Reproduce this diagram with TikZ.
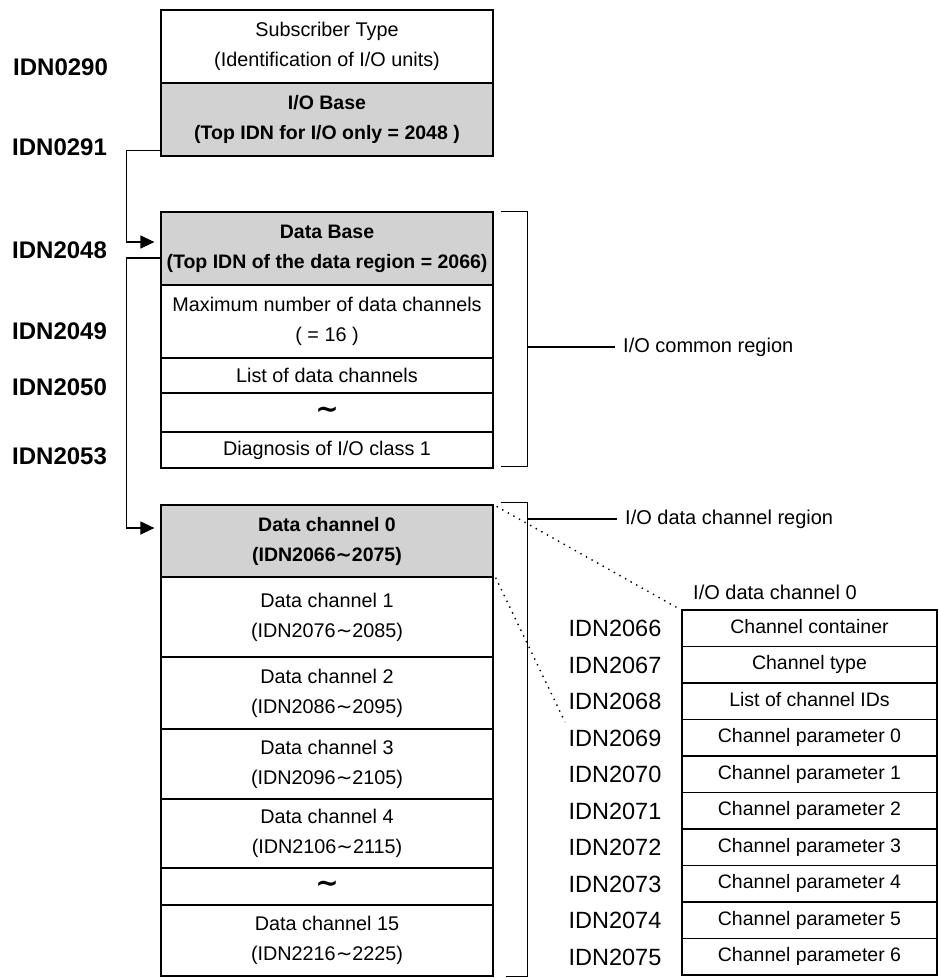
\documentclass[tikz,border=0pt]{standalone}
\usepackage{fontspec}
\setmainfont{Liberation Sans}
\newfontfamily\symf{DejaVu Sans}
\usetikzlibrary{arrows.meta}
\definecolor{boxgray}{RGB}{210,210,210}
\newcommand\wt{{\symf\char"223C}}
\newcommand\bigwt{{\symf\bfseries\fontsize{28}{28}\selectfont\char"223C}}
\begin{document}
\begin{tikzpicture}[x=1pt,y=-1pt,
 cell/.style={draw, line width=1.2pt, minimum width=332pt, inner sep=0pt, align=center, font=\fontsize{19.8}{30}\selectfont},
 shaded/.style={cell, fill=boxgray, font=\fontsize{19.5}{30}\selectfont\bfseries},
 tcell/.style={draw, line width=1.2pt, minimum width=255pt, minimum height=36.5pt, inner sep=0pt, text height=14pt, text depth=4pt, font=\fontsize{19.5}{24}\selectfont},
 lidn/.style={anchor=west, font=\fontsize{24}{24}\selectfont\bfseries, inner sep=0pt},
 ridn/.style={font=\fontsize{23.5}{23.5}\selectfont, inner sep=0pt},
 reg/.style={anchor=west, font=\fontsize{20}{20}\selectfont, inner sep=0pt},
 bline/.style={line width=1.2pt},
 link/.style={line width=1.2pt, -{Triangle[length=14pt,width=13pt]}},
 dots/.style={line width=1.4pt, dash pattern=on 1.4pt off 5pt}
]
\useasboundingbox (0,0) rectangle (939,978);

% main column
\node[cell, minimum height=73pt] (st) at (327,46.5) {Subscriber Type\\(Identification of I/O units)};
\node[shaded, minimum height=73pt] (iob) at (327,119.5) {I/O Base\\(Top IDN for I/O only = 2048 )};
\node[shaded, minimum height=73pt] (db) at (327,248.5) {Data Base\\(Top IDN of the data region = 2066)};
\node[cell, minimum height=73pt] (maxn) at (327,321.5) {Maximum number of data channels\\( = 16 )};
\node[cell, minimum height=35pt] (lst) at (327,375.5) {List of data channels};
\node[cell, minimum height=39pt] (tla) at (327,412.5) {\bigwt};
\node[cell, minimum height=36pt] (diag) at (327,450) {Diagnosis of I/O class 1};

\node[shaded, minimum height=72pt] (dc0) at (327,541) {Data channel 0\\(IDN2066\wt2075)};
\node[cell, minimum height=80pt] (dc1) at (327,617) {Data channel 1\\(IDN2076\wt2085)};
\node[cell, minimum height=72pt] (dc2) at (327,693) {Data channel 2\\(IDN2086\wt2095)};
\node[cell, minimum height=70pt] (dc3) at (327,764) {Data channel 3\\(IDN2096\wt2105)};
\node[cell, minimum height=69pt] (dc4) at (327,833.5) {Data channel 4\\(IDN2106\wt2115)};
\node[cell, minimum height=37pt] (tlb) at (327,886.5) {\bigwt};
\node[cell, minimum height=71pt] (dc15) at (327,940.5) {Data channel 15\\(IDN2216\wt2225)};

% left labels
\node[lidn] (i0290) at (13,67) {IDN0290};
\node[lidn] (i0291) at (12,147) {IDN0291};
\node[lidn] (i2048) at (12,250) {IDN2048};
\node[lidn] (i2049) at (12,331) {IDN2049};
\node[lidn] (i2050) at (12,387.5) {IDN2050};
\node[lidn] (i2053) at (12,456) {IDN2053};

% arrows
\draw[link] ([yshift=6pt]iob.south west) -- ++(-34,0) |- ([xshift=-6pt,yshift=6.5pt]db.west);
\draw[link] ([yshift=-9.5pt]db.west) -- ++(-34,0) |- ([xshift=-6pt,yshift=13pt]dc0.west);

% region brackets
\node[reg] (creg) at (623,347) {I/O common region};
\draw[bline] ([xshift=7pt]db.north east) -- ++(27,0) |- ([xshift=7pt,yshift=2pt]diag.south east);
\coordinate (cmid) at (527,347);
\draw[bline] (cmid) -- ([xshift=-8pt]creg.west);

\node[reg] (dreg) at (625,519) {I/O data channel region};
\draw[bline] ([xshift=7pt,yshift=2pt]dc0.north east) -- ++(27,0) |- ([xshift=12pt]dc15.south east);
\coordinate (dmid) at (527,519);
\draw[bline] (dmid) -- ([xshift=-8pt]dreg.west);

% right table
\node[reg] (tt) at (693,592) {I/O data channel 0};
\foreach \t [count=\i from 0] in {Channel container, Channel type, List of channel IDs, Channel parameter 0, Channel parameter 1, Channel parameter 2, Channel parameter 3, Channel parameter 4, Channel parameter 5, Channel parameter 6}
  \node[tcell] (r\i) at (809.5,628.25+36.5*\i) {\t};
\foreach \n [count=\i from 0] in {2066,2067,2068,2069,2070,2071,2072,2073,2074,2075}
  \node[ridn] (l\n) at (615,628.5+36.5*\i) {IDN\n};

% dotted zoom lines
\coordinate (dend) at (565,722);
\draw[dots] ([xshift=3pt,yshift=-2pt]dc0.north east) -- ([xshift=-3pt,yshift=1pt]r0.north west);
\draw[dots] ([xshift=2pt]dc0.south east) -- (dend);
\end{tikzpicture}
\end{document}
